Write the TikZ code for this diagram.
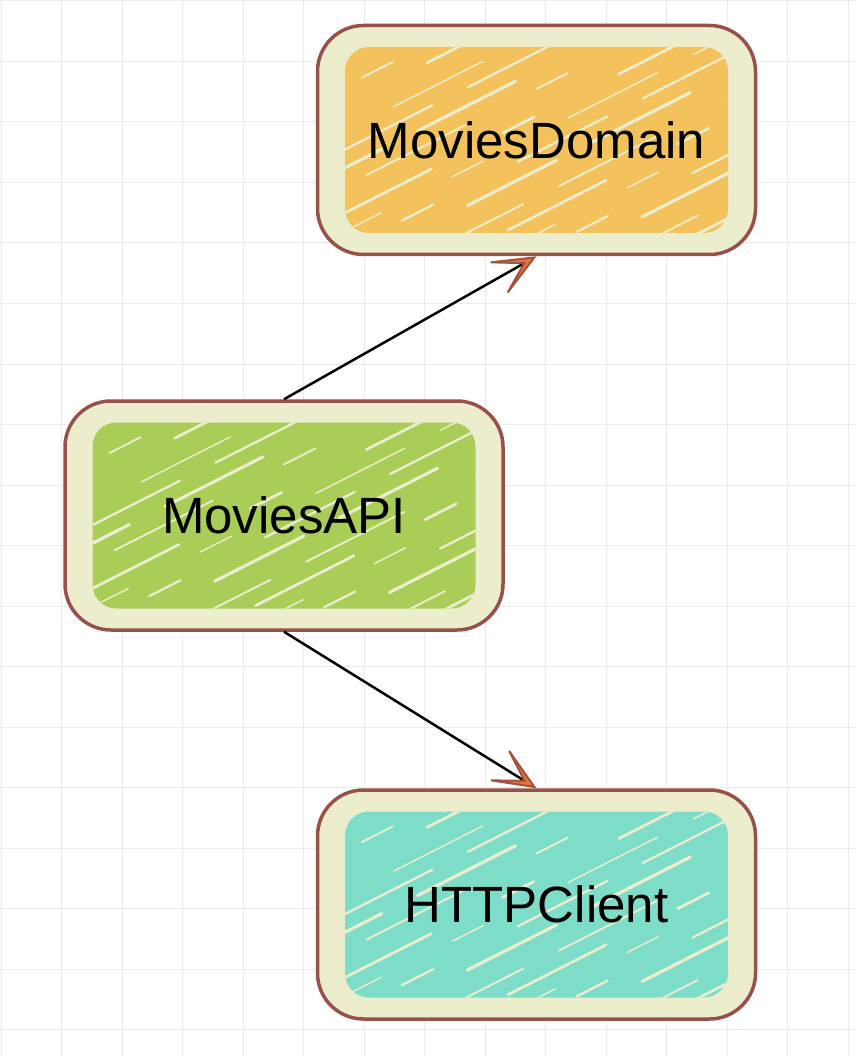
\documentclass[tikz,border=0pt]{standalone}
\usepackage{fontspec}
\usepackage{xcolor}
\usepackage{tikz}
\usetikzlibrary{positioning, arrows.meta}
\newfontfamily\boxfont{Liberation Sans}
\definecolor{gridgray}{HTML}{EBEBEB}
\definecolor{boxcream}{HTML}{ECEDCD}
\definecolor{boxline}{HTML}{98514A}
\definecolor{domainfill}{HTML}{F3C25C}
\definecolor{apifill}{HTML}{AACD57}
\definecolor{clientfill}{HTML}{7EDDC9}
\definecolor{tipfill}{HTML}{E2773A}
\definecolor{tipline}{HTML}{A4523F}

\begin{document}
\begin{tikzpicture}[x=1pt, y=-1pt,
        gridline/.style={gridgray, line width=1pt},
        modbox/.style={draw=boxline, line width=3.5pt, rounded corners=46pt, minimum width=438pt, minimum height=229pt, font=\boxfont\fontsize{51}{60}\selectfont},
        hatch/.style={boxcream, line cap=round},
        dep/.style={black, line width=2.5pt, -{Stealth[length=56pt, width=48pt, inset=40pt, fill=tipfill, color=tipline, line width=2pt]}}]
        \useasboundingbox[fill=white] (0,0) rectangle (856,1056);
        % background grid
        \foreach \k in {0,...,14} \draw[gridline] ({1+60.5*\k},0) -- ++(0,1056);
        \foreach \k in {0,...,17} \draw[gridline] (0,{1+60.5*\k}) -- ++(856,0);
        % modules
        \foreach \nm/\px/\py/\col/\txt in {domain/536.5/140/domainfill/MoviesDomain, api/284/515.5/apifill/MoviesAPI, client/536.5/904.5/clientfill/HTTPClient}{
            \fill[boxcream, rounded corners=46pt] (\px-219,\py-114.5) rectangle (\px+219,\py+114.5);
            \begin{scope}[shift={(\px,\py)}]
                \fill[\col, rounded corners=24pt] (-191.5,-93) rectangle (191.5,93);
                \clip[rounded corners=24pt] (-191.5,-93) rectangle (191.5,93);
                \foreach \k [evaluate=\k as \ph using {mod(\k*97,460)},
                             evaluate=\k as \dx using {-620+40*\k+mod(\k*13,17)},
                             evaluate=\k as \lw using {1.4+mod(\k*7,5)*0.45}] in {0,...,20}
                    \draw[hatch, line width=\lw pt, dash pattern=on 110pt off 80pt on 35pt off 95pt on 100pt off 40pt, dash phase=\ph pt] (\dx,100) -- ++(430,-218);
            \end{scope}
            \node[modbox] (\nm) at (\px,\py) {\txt};
        }
        % dependencies
        \draw[dep] (api.north) -- (domain.south);
        \draw[dep] (api.south) -- (client.north);
    \end{tikzpicture}
\end{document}
